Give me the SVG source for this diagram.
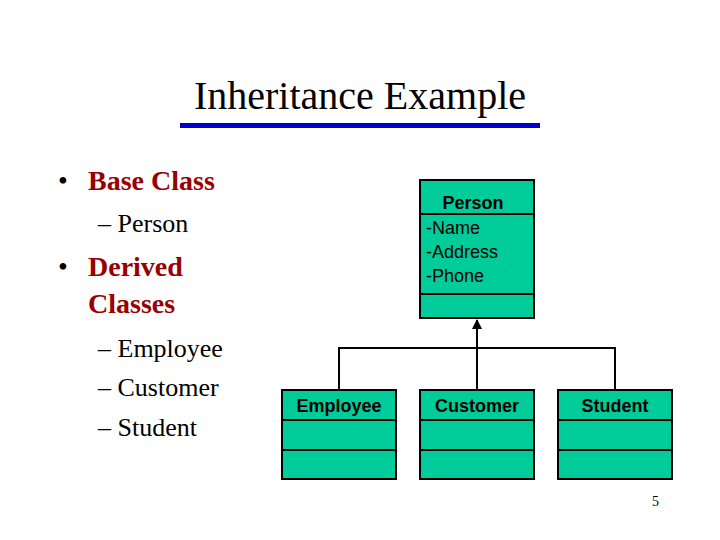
<svg xmlns="http://www.w3.org/2000/svg" width="720" height="540" viewBox="0 0 720 540">
<style>
.b{fill:#00CC99;stroke:#000;stroke-width:2}
.d{stroke:#000;stroke-width:2}
.t{font-family:"Liberation Sans",Arial,sans-serif;font-weight:bold;font-size:18px;fill:#000;text-anchor:middle}
.a{font-family:"Liberation Sans",Arial,sans-serif;font-size:18px;fill:#000}
.s{font-family:"Liberation Serif","Times New Roman",serif}
.c{fill:none;stroke:#000;stroke-width:2}
</style>
<defs><marker id="ar" viewBox="0 0 10 10" refX="9" refY="5" markerWidth="5" markerHeight="5" orient="auto"><path d="M0,0L10,5L0,10z" fill="#000"/></marker></defs>
<rect width="720" height="540" fill="#fff"/>
<text x="360" y="109" class="s" font-size="40" text-anchor="middle">Inheritance Example</text>
<rect x="180" y="123" width="360" height="5" fill="#0000CC"/>
<text class="s" font-size="28"><tspan x="58" y="190" fill="#000">•</tspan><tspan x="88" y="190" fill="#990000" font-weight="bold">Base Class</tspan></text>
<text class="s" font-size="26" x="98" y="232">– Person</text>
<text class="s" font-size="28"><tspan x="58" y="276">•</tspan><tspan x="88" y="276" fill="#990000" font-weight="bold">Derived</tspan><tspan x="88" y="313" fill="#990000" font-weight="bold">Classes</tspan></text>
<text class="s" font-size="26"><tspan x="98" y="357">– Employee</tspan><tspan x="98" y="396">– Customer</tspan><tspan x="98" y="436">– Student</tspan></text>
<text class="s" font-size="14" x="652" y="506">5</text>
<g id="connectors">
<path class="c" d="M339,390V348H615V390"/>
<path class="c" d="M477,390V320" marker-end="url(#ar)"/>
</g>
<g id="person"><rect class="b" x="420" y="180" width="114" height="138"/><line class="d" x1="420" y1="214" x2="534" y2="214"/><line class="d" x1="420" y1="294" x2="534" y2="294"/>
<text class="t" x="473" y="209" font-size="21">Person</text>
<text class="a"><tspan x="426" y="234">-Name</tspan><tspan x="426" y="258">-Address</tspan><tspan x="426" y="282">-Phone</tspan></text></g>
<g id="employee"><rect class="b" x="282" y="390" width="114" height="89"/><line class="d" x1="282" y1="420" x2="396" y2="420"/><line class="d" x1="282" y1="450" x2="396" y2="450"/><text class="t" x="339" y="412">Employee</text></g>
<g id="customer"><rect class="b" x="420" y="390" width="114" height="89"/><line class="d" x1="420" y1="420" x2="534" y2="420"/><line class="d" x1="420" y1="450" x2="534" y2="450"/><text class="t" x="477" y="412">Customer</text></g>
<g id="student"><rect class="b" x="558" y="390" width="114" height="89"/><line class="d" x1="558" y1="420" x2="672" y2="420"/><line class="d" x1="558" y1="450" x2="672" y2="450"/><text class="t" x="615" y="412">Student</text></g>
</svg>
